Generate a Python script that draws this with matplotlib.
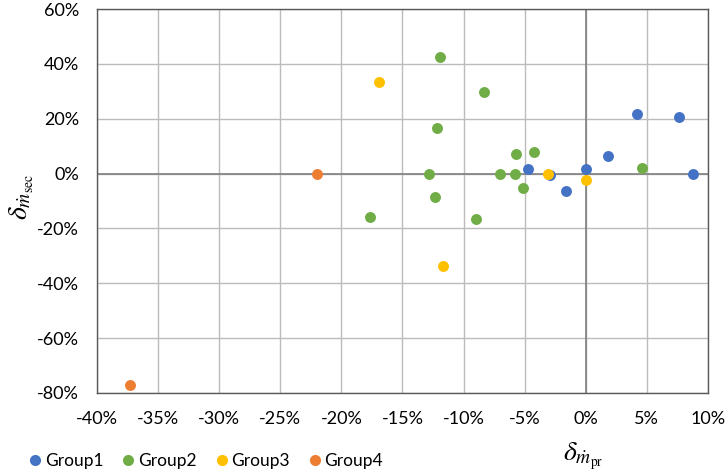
import matplotlib
matplotlib.use("Agg")
import matplotlib.pyplot as plt
from matplotlib.ticker import FuncFormatter, MultipleLocator
from matplotlib.lines import Line2D

plt.rcParams['font.family'] = ['Lato', 'DejaVu Sans']
plt.rcParams['mathtext.fontset'] = 'stix'

groups = ["Group1", "Group2", "Group3", "Group4"]
colors = ["#4472C4", "#70AD47", "#FFC000", "#ED7D31"]

g1_x = [-4.7, -2.9, -1.6, 0.0, 1.8, 4.2, 7.6, 8.8]
g1_y = [1.6, -0.7, -6.2, 1.7, 6.5, 21.8, 20.5, 0.0]
g2_x = [-11.9, -8.3, -12.2, -5.7, -4.2, -12.8, -7.0, -5.8, -5.1, -12.3, -17.7, -9.0, 4.6]
g2_y = [42.6, 29.9, 16.6, 7.0, 7.7, 0.0, 0.0, 0.0, -5.1, -8.4, -15.8, -16.6, 1.9]
g3_x = [-16.9, -3.1, 0.0, -11.7]
g3_y = [33.3, 0.0, -2.3, -33.6]
g4_x = [-22.0, -37.3]
g4_y = [0.0, -77.0]

xs = [g1_x, g2_x, g3_x, g4_x]
ys = [g1_y, g2_y, g3_y, g4_y]

fig = plt.figure(figsize=(7.26, 4.74), dpi=100)
ax = fig.add_axes([0.1336, 0.171, 0.8416, 0.810])

for x, y, c, g in zip(xs, ys, colors, groups):
    ax.scatter(x, y, s=62, color=c, label=g, zorder=3, linewidths=0)

ax.set_xlim(-40, 10)
ax.set_ylim(-80, 60)
ax.xaxis.set_major_locator(MultipleLocator(5))
ax.yaxis.set_major_locator(MultipleLocator(20))
pct = FuncFormatter(lambda v, p: f"{v:.0f}%")
ax.xaxis.set_major_formatter(pct)
ax.yaxis.set_major_formatter(pct)
ax.grid(True, color="#bcbcbc", linewidth=1.0, zorder=0)
ax.set_axisbelow(True)
ax.axhline(0, color="#7f7f7f", linewidth=1.2, zorder=1)
ax.axvline(0, color="#7f7f7f", linewidth=1.2, zorder=1)
ax.tick_params(length=0, labelsize=13, pad=13, colors="#000000")
for s in ax.spines.values():
    s.set_color("#595959")
    s.set_linewidth(1.0)

fig.text(0.030, 0.585, r"$\delta_{\dot{m}_{\mathrm{sec}}}$", rotation=90,
         ha="center", va="center", fontsize=20)
fig.text(0.803, 0.038, r"$\delta_{\dot{m}_{\mathrm{pr}}}$",
         ha="center", va="center", fontsize=20)

handles = [Line2D([], [], marker="o", linestyle="", markersize=8,
                  markerfacecolor=c, markeredgewidth=0) for c in colors]
fig.legend(handles, groups, loc="center left", bbox_to_anchor=(0.015, 0.028),
           ncol=4, frameon=False, fontsize=12.5, handletextpad=0.05,
           columnspacing=0.95, handlelength=1.0)

fig.savefig("out.png", dpi=100)
